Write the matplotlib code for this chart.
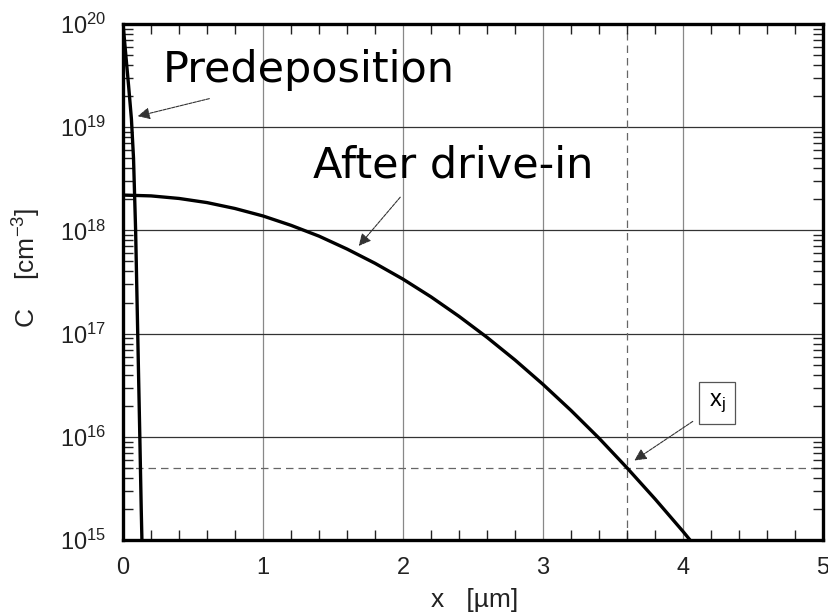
import matplotlib
matplotlib.use("Agg")
import matplotlib.pyplot as plt
from matplotlib.ticker import LogLocator, MultipleLocator, NullFormatter

plt.rcParams["font.family"] = ["Liberation Sans", "DejaVu Sans"]
plt.rcParams["mathtext.default"] = "regular"

# values
x_pre = [0.0, 0.02, 0.04, 0.06, 0.075, 0.09, 0.105, 0.12, 0.13, 0.135]
c_pre = [1e20, 5e19, 2.5e19, 1.2e19, 5e18, 1e18, 1e17, 1e16, 2e15, 1e15]

x_drive = [0.0, 0.2, 0.4, 0.6, 0.8, 1.0, 1.2, 1.4, 1.6, 1.8, 2.0, 2.2, 2.4,
           2.6, 2.8, 3.0, 3.2, 3.4, 3.6, 3.8, 4.0, 4.05]
c_drive = [2.2e18, 2.16e18, 2.04e18, 1.86e18, 1.63e18, 1.38e18, 1.12e18,
           8.8e17, 6.6e17, 4.8e17, 3.37e17, 2.27e17, 1.47e17, 9.2e16, 5.55e16,
           3.22e16, 1.8e16, 9.7e15, 5.0e15, 2.5e15, 1.21e15, 1.0e15]

xj = 3.6
c_background = 5e15

fig = plt.figure(figsize=(8.29, 6.14), dpi=100)
ax = fig.add_axes([0.1484, 0.1205, 0.8444, 0.8404])

ax.set_yscale("log")
ax.set_xlim(0, 5)
ax.set_ylim(1e15, 1e20)

# grid
for v in range(1, 5):
    ax.axvline(v, color="#888888", lw=0.9, zorder=1)
for e in range(16, 20):
    ax.axhline(10.0 ** e, color="#333333", lw=0.9, zorder=1)

# junction markers
ax.axvline(xj, color="#666666", lw=0.9, ls=(0, (6, 4)), zorder=1)
ax.axhline(c_background, color="#666666", lw=0.9, ls=(0, (6, 4)), zorder=1)

ax.plot(x_pre, c_pre, color="black", lw=2.4, zorder=3)
ax.plot(x_drive, c_drive, color="black", lw=2.4, zorder=3)

# ticks
ax.xaxis.set_major_locator(MultipleLocator(1))
ax.xaxis.set_minor_locator(MultipleLocator(0.2))
ax.yaxis.set_major_locator(LogLocator(base=10, numticks=10))
ax.yaxis.set_minor_locator(LogLocator(base=10, subs=range(2, 10), numticks=10))
ax.yaxis.set_minor_formatter(NullFormatter())
ax.tick_params(which="both", direction="in", top=True, right=True, labelsize=17,
               colors="#222222")
ax.tick_params(which="major", length=0, pad=12)
ax.tick_params(which="minor", length=7, width=1)
for s in ax.spines.values():
    s.set_linewidth(2.4)

# axis labels placed like the original
fig.text(475 / 829, 1 - 600 / 614, "x   [µm]", fontsize=19, color="#222222",
         ha="center", va="center")
fig.text(27 / 829, 1 - 268 / 614, "C    [cm$^{-3}$]", fontsize=19, color="#222222",
         ha="center", va="center", rotation=90)

# annotations
hand = ["DejaVu Sans"]
ax.text(0.286, 2.74e19, "Predeposition", fontsize=31, family=hand, va="baseline")
ax.annotate("", xy=(0.086, 1.26e19), xytext=(0.636, 1.92e19),
            arrowprops=dict(arrowstyle="-|>", color="#333333", lw=0.8,
                            ls=(0, (3, 1)), mutation_scale=18))

ax.text(1.357, 3.29e18, "After drive-in", fontsize=31, family=hand, va="baseline")
ax.annotate("", xy=(1.671, 6.75e17), xytext=(1.993, 2.2e18),
            arrowprops=dict(arrowstyle="-|>", color="#333333", lw=0.8,
                            ls=(0, (3, 1)), mutation_scale=18))

ax.text(4.243, 2.13e16, "x$_j$", fontsize=17, ha="center", va="center",
        bbox=dict(boxstyle="square,pad=0.4", fc="white", ec="#555555", lw=0.9),
        zorder=4)
ax.annotate("", xy=(3.636, 5.7e15), xytext=(4.086, 1.46e16),
            arrowprops=dict(arrowstyle="-|>", color="#333333", lw=0.8,
                            ls=(0, (3, 1)), mutation_scale=18))

fig.savefig("out.png", dpi=100)
